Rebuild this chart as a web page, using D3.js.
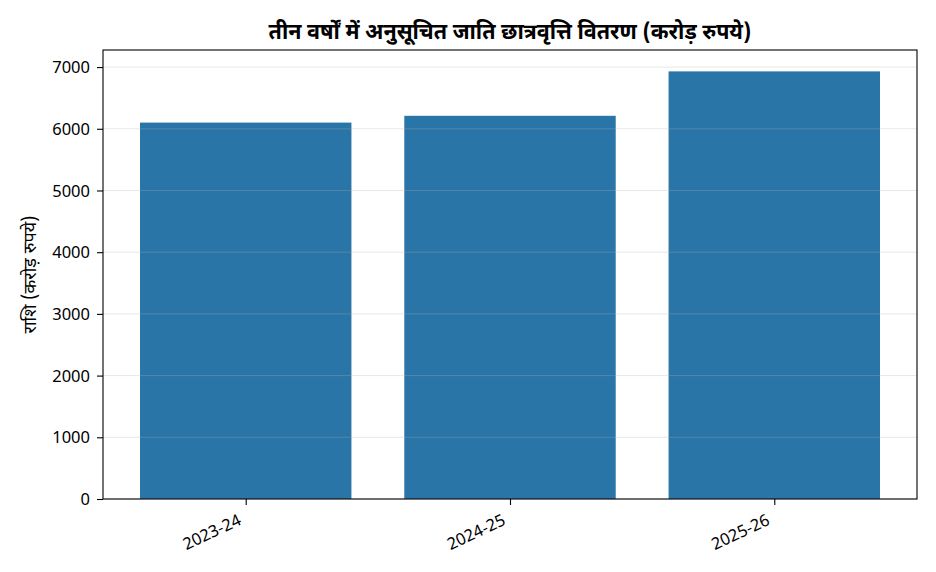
<!DOCTYPE html>
<html>
<head>
<meta charset="utf-8">
<script src="https://cdn.jsdelivr.net/npm/d3@7"></script>
<style>
  body { margin: 0; background: #fff; }
  svg { font-family: "Noto Sans Devanagari", "Noto Sans", sans-serif; }
</style>
</head>
<body>
<svg id="chart" width="936" height="572"></svg>
<script>
const years = ["2023-24", "2024-25", "2025-26"];
const amounts = [6100, 6210, 6930];
const yTicks = [0, 1000, 2000, 3000, 4000, 5000, 6000, 7000];
const title = "तीन वर्षों में अनुसूचित जाति छात्रवृत्ति वितरण (करोड़ रुपये)";
const yLabel = "राशि (करोड़ रुपये)";

const svg = d3.select("#chart");
const width = 936, height = 572;
const margin = { top: 50, right: 19, bottom: 73, left: 103 };
const barWidth = 0.8;

const xScale = d3.scaleLinear()
  .domain([-0.54, years.length - 1 + 0.54])
  .range([margin.left, width - margin.right]);

const yScale = d3.scaleLinear()
  .domain([0, d3.max(amounts) * 1.05])
  .range([height - margin.bottom, margin.top]);

// bars
svg.append("g")
  .selectAll("rect")
  .data(amounts)
  .join("rect")
  .attr("x", (d, i) => xScale(i - barWidth / 2))
  .attr("width", (d, i) => xScale(i + barWidth / 2) - xScale(i - barWidth / 2))
  .attr("y", d => yScale(d))
  .attr("height", d => yScale(0) - yScale(d))
  .attr("fill", "#2a75a7");

// grid on top of bars
svg.append("g")
  .selectAll("line")
  .data(yTicks)
  .join("line")
  .attr("x1", margin.left)
  .attr("x2", width - margin.right)
  .attr("y1", d => yScale(d))
  .attr("y2", d => yScale(d))
  .attr("stroke", "#b0b0b0")
  .attr("stroke-opacity", 0.3)
  .attr("stroke-width", 1);

// axes
const yAxis = svg.append("g")
  .attr("transform", `translate(${margin.left},0)`)
  .call(d3.axisLeft(yScale).tickValues(yTicks).tickSize(6).tickPadding(7).tickFormat(d3.format("d")));

const xAxis = svg.append("g")
  .attr("transform", `translate(0,${height - margin.bottom})`)
  .call(d3.axisBottom(xScale).tickValues(d3.range(years.length)).tickSize(6).tickFormat(i => years[i]));

[xAxis, yAxis].forEach(ax => {
  ax.select(".domain").remove();
  ax.selectAll(".tick line").attr("stroke", "#000").attr("stroke-width", 1.1);
  ax.selectAll(".tick text").attr("fill", "#000").style("font-size", "16.5px")
    .style("font-family", "'Noto Sans', sans-serif");
});

xAxis.selectAll(".tick text")
  .attr("text-anchor", "end")
  .attr("dy", null)
  .attr("y", null)
  .attr("transform", "translate(-10,12) rotate(-25)")
  .attr("dominant-baseline", "hanging");

yAxis.selectAll(".tick text").attr("dy", "0.34em");

// frame
svg.append("rect")
  .attr("x", margin.left)
  .attr("y", margin.top)
  .attr("width", width - margin.left - margin.right)
  .attr("height", height - margin.top - margin.bottom)
  .attr("fill", "none")
  .attr("stroke", "#000")
  .attr("stroke-width", 1.1);

// title
svg.append("text")
  .attr("x", (margin.left + width - margin.right) / 2)
  .attr("y", 39)
  .attr("text-anchor", "middle")
  .style("font-size", "21.5px")
  .style("font-weight", "bold")
  .text(title);

// y label
svg.append("text")
  .attr("transform", `translate(36,${(margin.top + height - margin.bottom) / 2}) rotate(-90)`)
  .attr("text-anchor", "middle")
  .style("font-size", "18px")
  .text(yLabel);
</script>
</body>
</html>
